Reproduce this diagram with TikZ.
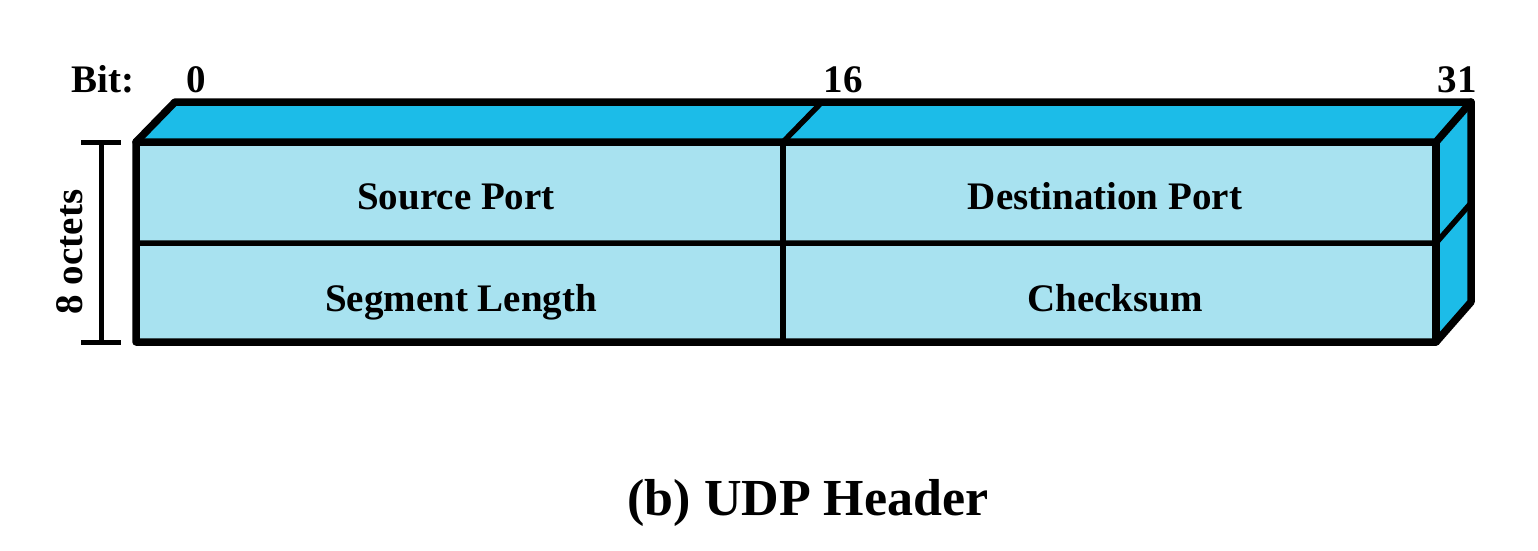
\documentclass[tikz,border=0pt]{standalone}
\usepackage{fontspec}
\setmainfont{Liberation Serif}
\begin{document}
\begin{tikzpicture}[x=1pt,y=-1pt,
  frontc/.style={fill=cellblue},
  sidec/.style={fill=sideblue},
  edge/.style={line width=7.5pt,line join=round,line cap=round},
  inner/.style={line width=5.5pt},
  lbl/.style={font=\bfseries\fontsize{39}{39}\selectfont,anchor=base,inner sep=0pt},
  ttl/.style={font=\bfseries\fontsize{52}{52}\selectfont,anchor=base,inner sep=0pt}]
\definecolor{cellblue}{HTML}{A8E2F0}
\definecolor{sideblue}{HTML}{1CBCE8}
\useasboundingbox (0,0) rectangle (1538,550);
% corners
\coordinate (fl) at (136,142);
\coordinate (fr) at (1436,142);
\coordinate (br) at (1436,342);
\coordinate (bl) at (136,342);
\coordinate (tl) at (175,102);
\coordinate (tr) at (1471,102);
\coordinate (rb) at (1471,302);
\coordinate (mid) at (783,142);
\coordinate (midt) at (822,102);
\coordinate (midb) at (783,342);
\coordinate (ml) at (136,243);
\coordinate (mr) at (1436,243);
\coordinate (mrr) at (1471,203);
% faces
\fill[frontc] (fl) rectangle (br);
\fill[sidec] (fl) -- (tl) -- (tr) -- (fr) -- cycle;
\fill[sidec] (fr) -- (tr) -- (rb) -- (br) -- cycle;
% inner lines
\draw[inner] (ml) -- (mr) -- (mrr);
\draw[inner] (mid) -- (midb);
\draw[inner] (mid) -- (midt);
% outline
\draw[edge] (fl) -- (tl) -- (tr) -- (rb) -- (br) -- (bl) -- cycle;
\draw[edge] (fl) -- (fr) -- (tr);
\draw[edge] (fr) -- (br);
% labels
\node[lbl] (sp) at (456,209) {Source Port};
\node[lbl] (dp) at (1105,209) {Destination Port};
\node[lbl] (sl) at (461,311) {Segment Length};
\node[lbl] (cs) at (1115,311) {Checksum};
\node[lbl] (bit) at (103,92) {Bit:};
\node[lbl] (b0) at (196,92) {0};
\node[lbl] (b16) at (843,92) {16};
\node[lbl] (b31) at (1457,92) {31};
% bracket
\coordinate (bt) at (101,142);
\coordinate (bb) at (101,342);
\draw[line width=5pt] (bt) -- (bb);
\draw[line width=5pt] ([xshift=-20pt]bt) -- ([xshift=20pt]bt);
\draw[line width=5pt] ([xshift=-20pt]bb) -- ([xshift=20pt]bb);
\node[lbl,rotate=90] (oct) at (82,252) {8 octets};
% title
\node[ttl] (title) at (808,515) {(b) UDP Header};
\end{tikzpicture}
\end{document}
